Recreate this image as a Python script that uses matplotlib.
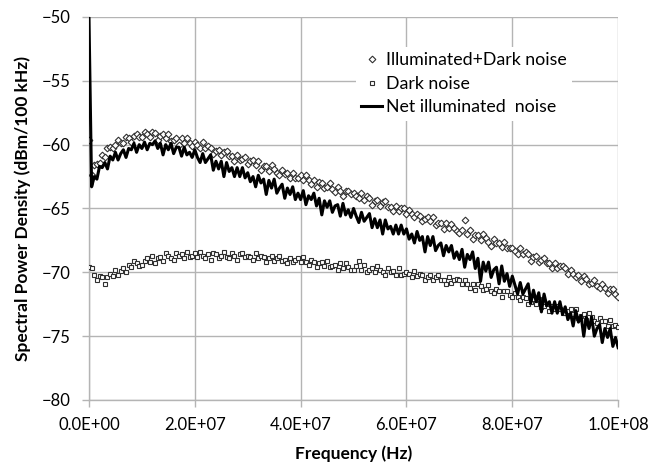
import numpy as np
import matplotlib
matplotlib.use("Agg")
import matplotlib.pyplot as plt
from matplotlib.ticker import FuncFormatter

plt.rcParams['font.family'] = ['Lato', 'DejaVu Sans']

# frequency grid in MHz (0.5 MHz steps, 0 .. 100 MHz)
freq_mhz = np.arange(201) * 0.5

# Illuminated + Dark noise (dBm/100 kHz)
illum_dark = [
    -59.6, -62.4, -61.6, -61.5, -61.4, -60.8, -61.0, -60.3, -60.2, -60.3, -60.0, -59.6, -59.9, -59.9, -59.4, -59.5, -59.8, -59.3, -59.2, -59.4,
    -59.4, -59.0, -59.2, -59.4, -59.0, -59.1, -59.6, -59.3, -59.2, -59.5, -59.2, -59.7, -59.6, -59.5, -60.0, -59.5, -59.9, -59.5, -59.9, -60.1,
    -59.8, -60.0, -60.3, -59.8, -60.3, -60.1, -60.3, -60.7, -60.5, -60.4, -60.8, -60.6, -60.5, -60.9, -60.9, -61.3, -60.8, -61.2, -61.1, -61.0,
    -61.5, -61.3, -61.2, -61.6, -61.3, -62.0, -61.7, -61.7, -62.1, -61.6, -61.9, -62.2, -62.4, -62.0, -62.3, -62.2, -62.6, -62.2, -62.6, -62.6,
    -62.4, -62.8, -62.4, -62.8, -63.1, -62.8, -63.3, -62.9, -63.0, -63.4, -63.3, -63.0, -63.5, -63.7, -63.3, -63.6, -64.0, -63.6, -63.6, -63.9,
    -63.8, -64.0, -64.2, -63.8, -64.3, -64.0, -64.2, -64.7, -64.4, -64.3, -64.8, -64.5, -64.4, -64.9, -64.9, -65.2, -64.8, -65.2, -65.0, -65.0,
    -65.4, -65.1, -65.4, -65.7, -65.4, -65.6, -66.0, -65.8, -65.7, -66.0, -65.7, -66.3, -66.1, -66.1, -66.6, -66.1, -66.5, -66.2, -66.5, -66.8,
    -66.9, -66.7, -65.9, -67.0, -66.7, -67.4, -67.1, -67.1, -67.5, -67.0, -67.3, -67.6, -67.9, -67.4, -67.7, -67.7, -68.0, -67.6, -68.1, -68.1,
    -68.1, -68.3, -68.6, -68.1, -68.6, -68.4, -68.6, -69.1, -68.8, -68.7, -69.2, -69.0, -68.9, -69.3, -69.3, -69.7, -69.3, -69.7, -69.5, -69.5,
    -69.7, -70.1, -69.8, -70.1, -70.4, -70.2, -70.7, -70.3, -70.5, -70.9, -70.8, -70.6, -71.1, -71.2, -70.9, -71.2, -71.6, -71.3, -71.3, -71.7,
    -71.9,
]

# Dark noise
dark = [
    -69.6, -69.7, -70.2, -70.6, -70.3, -70.4, -70.9, -70.4, -70.1, -70.3, -69.8, -70.2, -69.9, -69.7, -70.0, -69.4, -69.6, -69.1, -69.3, -69.5,
    -69.4, -69.1, -68.9, -69.2, -68.7, -69.3, -68.9, -68.8, -69.1, -68.5, -68.7, -68.9, -69.0, -68.5, -68.7, -68.6, -68.9, -68.4, -68.8, -68.7,
    -68.5, -68.8, -68.4, -68.7, -68.9, -68.6, -69.0, -68.5, -68.6, -68.9, -68.7, -68.4, -68.8, -68.9, -68.5, -68.7, -69.0, -68.6, -68.5, -68.8,
    -68.7, -68.8, -69.0, -68.5, -68.9, -68.7, -68.8, -69.2, -68.9, -68.7, -69.1, -68.9, -68.7, -69.1, -69.0, -69.3, -68.9, -69.2, -69.0, -68.9,
    -69.2, -68.8, -69.2, -69.4, -69.0, -69.2, -69.6, -69.3, -69.2, -69.5, -69.1, -69.6, -69.5, -69.4, -69.8, -69.3, -69.7, -69.3, -69.6, -69.8,
    -69.8, -69.5, -69.1, -69.8, -69.4, -70.0, -69.8, -69.7, -70.0, -69.5, -69.8, -70.0, -70.2, -69.7, -70.0, -69.9, -70.2, -69.7, -70.2, -70.1,
    -70.0, -70.1, -70.4, -69.9, -70.3, -70.1, -70.2, -70.6, -70.4, -70.2, -70.6, -70.4, -70.2, -70.6, -70.6, -70.9, -70.4, -70.8, -70.6, -70.5,
    -70.6, -70.9, -70.6, -70.9, -71.2, -70.9, -71.4, -70.9, -71.1, -71.4, -71.3, -71.0, -71.5, -71.6, -71.3, -71.5, -71.9, -71.5, -71.5, -71.8,
    -71.9, -71.6, -71.9, -72.2, -71.9, -72.0, -72.5, -72.3, -72.1, -72.5, -72.1, -72.7, -72.6, -72.5, -73.0, -72.6, -72.9, -72.6, -72.9, -73.2,
    -73.2, -73.0, -72.9, -73.3, -72.9, -73.6, -73.4, -73.3, -73.7, -73.2, -73.5, -73.8, -74.0, -73.6, -73.8, -73.8, -74.2, -73.7, -74.2, -74.1,
    -74.3,
]

# Net illuminated noise
net = [
    -50.0, -63.3, -62.5, -62.7, -61.7, -61.8, -61.4, -61.9, -60.9, -61.2, -60.6, -61.2, -60.7, -60.4, -61.0, -60.3, -60.4, -59.9, -60.6, -60.0,
    -60.3, -59.8, -60.4, -59.9, -60.0, -59.7, -60.3, -59.9, -60.8, -60.0, -60.4, -59.9, -60.7, -60.2, -60.2, -60.9, -60.2, -60.8, -60.6, -61.0,
    -60.4, -61.0, -61.4, -60.7, -61.4, -61.1, -60.8, -62.0, -61.3, -61.9, -61.3, -62.5, -61.4, -62.1, -61.8, -62.5, -61.8, -62.5, -61.8, -62.6,
    -62.2, -62.9, -62.5, -63.3, -62.4, -63.0, -62.7, -63.9, -62.8, -63.4, -62.7, -63.8, -63.4, -63.1, -64.2, -63.4, -63.9, -63.3, -64.3, -63.8,
    -64.3, -63.6, -64.7, -64.0, -64.3, -63.8, -64.8, -64.2, -65.5, -64.4, -64.9, -64.4, -65.3, -64.8, -64.7, -65.6, -64.6, -65.5, -65.1, -65.7,
    -65.0, -65.6, -66.1, -65.3, -66.0, -65.7, -65.4, -66.5, -65.8, -66.5, -65.9, -67.0, -65.9, -66.6, -66.4, -67.0, -66.3, -67.0, -66.3, -67.0,
    -66.6, -67.4, -67.0, -67.7, -66.8, -67.5, -67.2, -68.4, -67.2, -67.9, -67.2, -68.3, -67.9, -67.7, -68.7, -67.9, -68.4, -67.9, -68.9, -68.4,
    -69.0, -68.2, -69.6, -68.6, -69.0, -68.4, -69.7, -68.9, -70.7, -69.2, -69.9, -69.2, -70.4, -69.8, -69.6, -70.9, -69.5, -70.7, -70.1, -71.1,
    -70.3, -71.0, -71.7, -70.8, -71.7, -71.3, -70.9, -72.4, -71.4, -72.3, -71.6, -73.1, -71.7, -72.6, -72.3, -73.2, -72.3, -73.2, -72.3, -73.3,
    -72.7, -73.7, -73.2, -74.2, -73.0, -73.9, -73.4, -75.0, -73.5, -74.4, -73.5, -75.0, -74.4, -74.1, -75.5, -74.4, -75.1, -74.4, -75.8, -75.1,
    -75.9,
]

freq = freq_mhz * 1e6
grid_col = '#b4b4b4'

fig = plt.figure(figsize=(6.59, 4.68), dpi=100)
ax = fig.add_axes([0.135, 0.1453, 0.803, 0.8184])

ax.plot(freq, illum_dark, linestyle='none', marker='D', markersize=3.4,
        markerfacecolor='white', markeredgecolor='#303030', markeredgewidth=0.8,
        label='Illuminated+Dark noise', zorder=3)
ax.plot(freq, dark, linestyle='none', marker='s', markersize=3.2,
        markerfacecolor='white', markeredgecolor='#303030', markeredgewidth=0.8,
        label='Dark noise', zorder=3)
ax.plot(freq, net, color='black', lw=2.2, label='Net illuminated  noise', zorder=4)

ax.set_xlim(0, 1e8)
ax.set_ylim(-80, -50)
ax.set_xticks(np.arange(0, 1.01e8, 2e7))
ax.set_yticks(np.arange(-80, -49, 5))
ax.xaxis.set_major_formatter(FuncFormatter(lambda v, p: '{:.1E}'.format(v)))

ax.grid(True, color=grid_col, lw=1)
ax.set_axisbelow(True)
for s in ['top', 'right']:
    ax.spines[s].set_visible(False)
for s in ['left', 'bottom']:
    ax.spines[s].set_color(grid_col)
    ax.spines[s].set_linewidth(1)
ax.tick_params(axis='both', color=grid_col, length=5, width=1, labelsize=12)
ax.tick_params(axis='y', pad=8)
ax.tick_params(axis='x', pad=7)

ax.set_xlabel('Frequency (Hz)', fontsize=12.5, fontweight='bold', labelpad=9)
ax.set_ylabel('Spectral Power Density (dBm/100 kHz)', fontsize=12.5, fontweight='bold', labelpad=8)

leg = ax.legend(loc='upper left', bbox_to_anchor=(0.487, 0.945), fontsize=12.8,
                frameon=True, fancybox=False, edgecolor='none', facecolor='white',
                framealpha=1, handlelength=1.2, handletextpad=0.2, labelspacing=0.42,
                borderpad=0.3)

fig.savefig('out.png', dpi=100)
